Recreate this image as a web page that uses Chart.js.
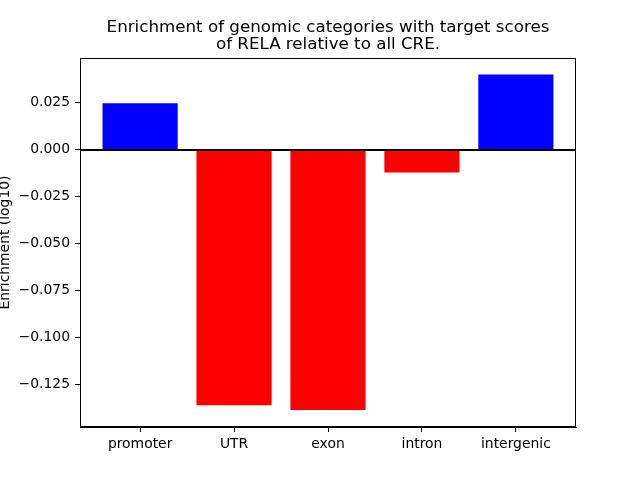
<!DOCTYPE html>
<html>
<head>
<meta charset="utf-8">
<script src="https://cdn.jsdelivr.net/npm/chart.js@4"></script>
<style>
  html, body { margin: 0; padding: 0; background: #fff; }
  #wrap { width: 640px; height: 480px; }
</style>
</head>
<body>
<div id="wrap"><canvas id="chart" width="640" height="480"></canvas></div>
<script>
// enrichment per genomic category (log10)
const categories = ["promoter", "UTR", "exon", "intron", "intergenic"];
const enrichment = [0.0247, -0.1361, -0.1387, -0.0122, 0.0400];
const yTicks = [-0.125, -0.1, -0.075, -0.05, -0.025, 0, 0.025];
const xTicks = [0, 1, 2, 3, 4];

const FONT = "'DejaVu Sans', sans-serif";

// black zero line + box around the axes, like matplotlib spines
const framePlugin = {
  id: "frame",
  afterDatasetsDraw(chart) {
    const { ctx, chartArea: a, scales } = chart;
    ctx.save();
    ctx.strokeStyle = "#000";
    ctx.lineWidth = 2;
    const y0 = Math.round(scales.y.getPixelForValue(0));
    ctx.beginPath();
    ctx.moveTo(a.left, y0);
    ctx.lineTo(a.right, y0);
    ctx.stroke();
    ctx.lineWidth = 1;
    ctx.strokeRect(a.left + 0.5, a.top + 0.5, a.right - a.left - 1, a.bottom - a.top - 1);
    ctx.restore();
  },
};

const points = enrichment.map((v, i) => ({ x: i, y: v }));

new Chart(document.getElementById("chart"), {
  type: "bar",
  data: {
    datasets: [
      {
        data: points,
        backgroundColor: enrichment.map((v) => (v >= 0 ? "#0000ff" : "#ff0000")),
        borderWidth: 0,
        barPercentage: 1,
        categoryPercentage: 0.8,
      },
    ],
  },
  options: {
    responsive: false,
    animation: false,
    layout: { padding: { left: 16, right: 0, top: 0, bottom: 0 } },
    plugins: {
      legend: { display: false },
      tooltip: { enabled: false },
      title: {
        display: true,
        text: ["Enrichment of genomic categories with target scores", "of RELA relative to all CRE."],
        color: "#000",
        font: { family: FONT, size: 16.7, weight: "normal", lineHeight: "17.5px" },
        padding: { top: 18.6, bottom: 4.4 },
      },
    },
    scales: {
      x: {
        type: "linear",
        offset: false,
        min: -0.64,
        max: 4.64,
        afterBuildTicks: (s) => { s.ticks = xTicks.map((v) => ({ value: v })); },
        afterFit: (s) => { s.height = 53; },
        ticks: {
          color: "#000",
          font: { family: FONT, size: 13.9 },
          padding: 4,
          maxRotation: 0,
          autoSkip: false,
          callback: (v) => categories[v],
        },
        grid: { offset: false, drawOnChartArea: false, drawTicks: true, tickLength: 5, color: "#000" },
        border: { display: true, color: "#000" },
      },
      y: {
        min: -0.1477,
        max: 0.0488,
        afterBuildTicks: (s) => { s.ticks = yTicks.map((v) => ({ value: v })); },
        afterFit: (s) => { s.width = 64; },
        ticks: {
          color: "#000",
          font: { family: FONT, size: 13.9 },
          padding: 5,
          callback: (v) => v.toFixed(3).replace("-", "\u2212"),
        },
        grid: { drawOnChartArea: false, drawTicks: true, tickLength: 5, color: "#000" },
        border: { display: true, color: "#000" },
        title: {
          display: true,
          text: "Enrichment (log10)",
          color: "#000",
          font: { family: FONT, size: 13.9 },
          padding: { top: -19, bottom: 0 },
        },
      },
      yr: {
        position: "right",
        display: true,
        afterFit: (s) => { s.width = 64; },
        ticks: { display: false },
        grid: { display: false, drawTicks: false },
        border: { display: false },
      },
    },
  },
  plugins: [framePlugin],
});
</script>
</body>
</html>
